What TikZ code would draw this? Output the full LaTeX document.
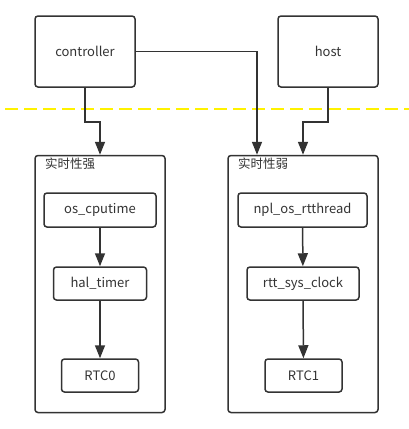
\documentclass[tikz,border=0pt]{standalone}
\usepackage{fontspec}
\setmainfont{Noto Sans CJK SC}
\usetikzlibrary{arrows.meta,positioning}
\definecolor{ink}{HTML}{333333}
\tikzset{
  box/.style={draw=ink, line width=1.5pt, rounded corners=3pt, text=ink, font=\fontsize{13}{15}\selectfont, inner sep=0pt},
  conn/.style={draw=ink, line width=1.5pt, -{Triangle[length=13pt,width=10pt]}},
  grp/.style={draw=ink, line width=1.5pt, rounded corners=3pt},
  grptitle/.style={text=ink, font=\fontsize{12.5}{15}\selectfont, anchor=west, inner sep=0pt}
}
\begin{document}
\begin{tikzpicture}[x=1pt,y=-1pt]
\useasboundingbox (0,0) rectangle (409,429);
% top nodes
\node[box, minimum width=100pt, minimum height=71pt] (ctrl) at (85,51.5) {controller};
\node[box, minimum width=100pt, minimum height=71pt] (host) at (328,51.5) {host};
% dashed yellow line
\coordinate (dl) at (5,109);
\coordinate (dr) at (409,109);
\draw[yellow, line width=2.5pt, dash pattern=on 13pt off 6pt] (dl) -- (dr);
% groups
\node[grp, minimum width=130pt, minimum height=257pt] (gl) at (100,284) {};
\node[grp, minimum width=150pt, minimum height=257pt] (gr) at (303,284) {};
\node[grptitle] (tl) at (45,164) {实时性强};
\node[grptitle] (tr) at (238,164) {实时性弱};
% left chain
\node[box, minimum width=112pt, minimum height=34pt] (osc) at (100,210) {os\_cputime};
\node[box, minimum width=93pt, minimum height=33pt] (hal) at (100,283.5) {hal\_timer};
\node[box, minimum width=77pt, minimum height=33pt] (rtc0) at (100,375.5) {RTC0};
% right chain
\node[box, minimum width=129pt, minimum height=34pt] (npl) at (302.5,210) {npl\_os\_rtthread};
\node[box, minimum width=112pt, minimum height=33pt] (rtt) at (303,283.5) {rtt\_sys\_clock};
\node[box, minimum width=77pt, minimum height=33pt] (rtc1) at (303.5,375.5) {RTC1};
% connectors
\draw[conn] (ctrl.south) -- ++(0,34) -| (gl.north -| 100,0);
\draw[conn] (ctrl.east) -| (gr.north -| 257,0);
\draw[conn] (host.south) -- ++(0,34) -| (gr.north -| 303,0);
\draw[conn] (osc) -- (hal);
\draw[conn] (hal) -- (rtc0);
\draw[conn] (npl) -- (rtt);
\draw[conn] (rtt) -- (rtc1);
\end{tikzpicture}
\end{document}
